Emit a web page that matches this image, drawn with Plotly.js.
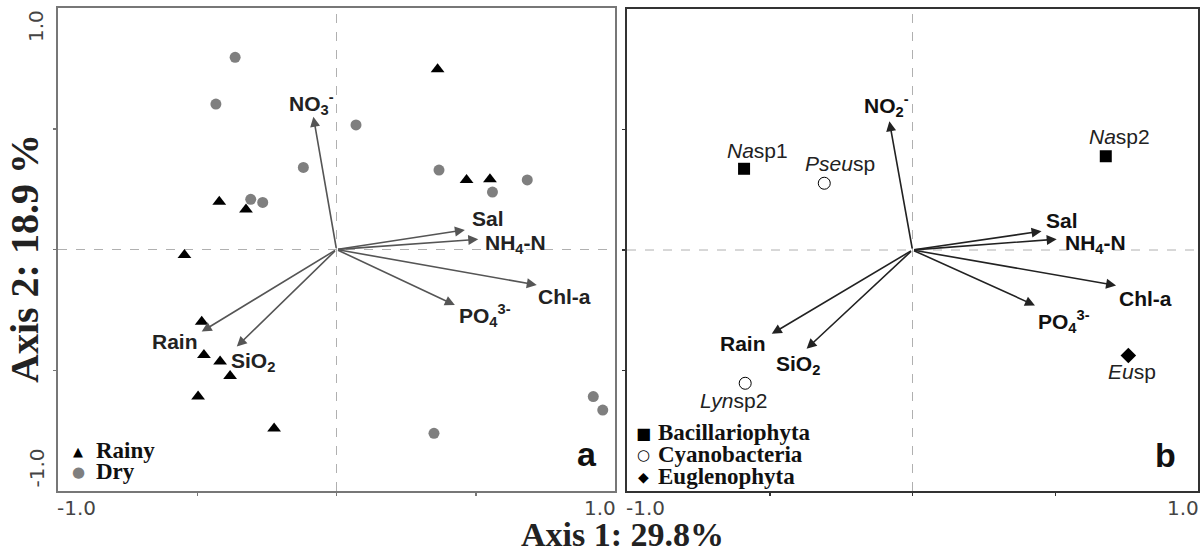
<!DOCTYPE html>
<html><head><meta charset="utf-8">
<script src="https://cdn.plot.ly/plotly-3.0.1.min.js"></script>
<style>html,body{margin:0;padding:0;background:#fff}</style>
</head><body><div id="chart" style="width:1201px;height:552px"></div>
<script>
// ---------- Panel a: sample scores ----------
const rainyX = [-0.421,-0.325,-0.546,0.363,0.467,0.551,-0.484,-0.476,-0.418,-0.382,-0.497,-0.224];
const rainyY = [0.198,0.166,-0.023,0.746,0.288,0.291,-0.299,-0.437,-0.464,-0.524,-0.609,-0.741];
const dryX = [-0.364,-0.433,0.070,-0.119,-0.308,-0.265,0.368,0.560,0.685,0.922,0.956,0.350];
const dryY = [0.796,0.602,0.516,0.340,0.208,0.195,0.329,0.238,0.288,-0.609,-0.665,-0.761];

// ---------- Environmental vectors ----------
const envLabelsA = ['NO<sub>3</sub><sup>-</sup>','Sal','NH<sub>4</sub>-N','Chl-a','PO<sub>4</sub><sup>3-</sup>','Rain','SiO<sub>2</sub>'];
const envLabelsB = ['NO<sub>2</sub><sup>-</sup>','Sal','NH<sub>4</sub>-N','Chl-a','PO<sub>4</sub><sup>3-</sup>','Rain','SiO<sub>2</sub>'];
const envAX = [-0.083,0.461,0.509,0.719,0.425,-0.484,-0.358];
const envAY = [0.550,0.081,0.042,-0.147,-0.230,-0.340,-0.402];
const envBX = [-0.081,0.452,0.505,0.713,0.429,-0.493,-0.371];
const envBY = [0.534,0.078,0.045,-0.147,-0.230,-0.348,-0.410];

// ---------- Panel b: species scores ----------
const speciesNames = ['<i>Na</i>sp1','<i>Na</i>sp2','<i>Pseu</i>sp','<i>Lyn</i>sp2','<i>Eu</i>sp'];
const speciesGroup = ['Bacillariophyta','Bacillariophyta','Cyanobacteria','Cyanobacteria','Euglenophyta'];
const speciesX = [-0.590,0.677,-0.309,-0.586,0.756];
const speciesY = [0.337,0.389,0.277,-0.553,-0.438];

// ---------- Legends, ticks, titles ----------
const seasonNames = ['Rainy','Dry'];
const groupNames = ['Bacillariophyta','Cyanobacteria','Euglenophyta'];
const tickValues = [-1, 1];
const tickLabels = ['-1.0','1.0'];
const xTitle = 'Axis 1: 29.8%';
const yTitle = 'Axis 2: 18.9 %';
const panelLetters = ['a','b'];

// ---------- styling (pixel offsets of labels) ----------
const envShiftA = [
  {xa:'center',ya:'bottom',dx:-2,dy:-3},
  {xa:'left',ya:'middle',dx:5,dy:11},
  {xa:'left',ya:'middle',dx:5,dy:-5},
  {xa:'left',ya:'middle',dx:-1,dy:-11},
  {xa:'left',ya:'middle',dx:2,dy:-10},
  {xa:'right',ya:'middle',dx:-2,dy:-10},
  {xa:'left',ya:'middle',dx:-8,dy:-15}
];
const envShiftB = [
  {xa:'center',ya:'bottom',dx:-3,dy:-1},
  {xa:'left',ya:'middle',dx:2,dy:11},
  {xa:'left',ya:'middle',dx:6,dy:-5},
  {xa:'left',ya:'middle',dx:1,dy:-13},
  {xa:'left',ya:'middle',dx:1,dy:-16},
  {xa:'right',ya:'middle',dx:-4,dy:-10},
  {xa:'left',ya:'middle',dx:-33,dy:-16}
];
const specShift = [{dx:13,dy:18},{dx:14,dy:20},{dx:16,dy:20},{dx:-12,dy:-17},{dx:4,dy:-16}];

const W = 1201, H = 552;
const px = v => v / W, py = v => 1 - v / H;
const SANS = 'Liberation Sans, Arial, sans-serif';
const SERIF = 'Liberation Serif, Times New Roman, serif';

const traces = [
  {x: rainyX, y: rainyY, xaxis:'x', yaxis:'y', mode:'markers', name: seasonNames[0],
   marker:{symbol:'triangle-up', size:12, color:'#000'}, cliponaxis:false, hoverinfo:'x+y'},
  {x: dryX, y: dryY, xaxis:'x', yaxis:'y', mode:'markers', name: seasonNames[1],
   marker:{symbol:'circle', size:11, color:'#7f7f7f'}, cliponaxis:false, hoverinfo:'x+y'}
];
const groupStyle = {
  'Bacillariophyta': {symbol:'square', size:12, color:'#000'},
  'Cyanobacteria': {symbol:'circle-open', size:12, color:'#000', line:{width:1, color:'#000'}},
  'Euglenophyta': {symbol:'diamond', size:12, color:'#000'}
};
groupNames.forEach(g => {
  const idx = speciesGroup.map((s,i)=>s===g?i:-1).filter(i=>i>=0);
  traces.push({x: idx.map(i=>speciesX[i]), y: idx.map(i=>speciesY[i]), xaxis:'x2', yaxis:'y2',
    mode:'markers', name:g, marker: groupStyle[g], cliponaxis:false, hoverinfo:'x+y'});
});

const baseAxis = {range:[-1,1], showgrid:false, zeroline:false, showline:true, mirror:true,
  linewidth:2, ticks:'outside', ticklen:3, tickwidth:1.5, tickvals:[-0.5,0,0.5],
  showticklabels:false, fixedrange:true};

const annotations = [];
const shapes = [];

function panel(xr, yr, ex, ey, labels, shifts, color, tipColor) {
  shapes.push({type:'line', xref:xr, yref:yr, x0:0, x1:0, y0:-1, y1:1, layer:'below',
    line:{color:'#b0b0b0', width:1, dash:'dash'}});
  shapes.push({type:'line', xref:xr, yref:yr, x0:-1, x1:1, y0:0, y1:0, layer:'below',
    line:{color:'#b0b0b0', width:1, dash:'dash'}});
  ex.forEach((vx,i) => {
    annotations.push({xref:xr, yref:yr, x:vx, y:ey[i], ax:0, ay:0, axref:xr, ayref:yr,
      text:'', showarrow:true, arrowhead:2, arrowsize:1.25, arrowwidth:1.6, arrowcolor:color, standoff:0});
    const s = shifts[i];
    annotations.push({xref:xr, yref:yr, x:vx, y:ey[i], text:labels[i], showarrow:false,
      xanchor:s.xa, yanchor:s.ya, xshift:s.dx, yshift:s.dy,
      font:{family:SANS, size:21, color:tipColor, weight:'bold'}});
  });
}
panel('x','y', envAX, envAY, envLabelsA, envShiftA, '#555', '#222');
panel('x2','y2', envBX, envBY, envLabelsB, envShiftB, '#222', '#111');

speciesNames.forEach((n,i) => {
  annotations.push({xref:'x2', yref:'y2', x:speciesX[i], y:speciesY[i], text:n, showarrow:false,
    xanchor:'center', yanchor:'middle', xshift:specShift[i].dx, yshift:specShift[i].dy,
    font:{family:SANS, size:21, color:'#222'}});
});

// tick labels
const TICKFAM = 'DejaVu Sans, sans-serif';
['x','x2'].forEach(xr => {
  tickValues.forEach((v,i) => {
    annotations.push({xref:xr, yref:'paper', x:v, y:py(508), text:tickLabels[i], showarrow:false,
      xanchor: v<0?'left':'right', yanchor:'middle', xshift: v<0?-2:2, borderpad:0,
      font:{family:TICKFAM, size:20, color:'#444'}});
  });
});
tickValues.forEach((v,i) => {
  annotations.push({xref:'paper', yref:'y', x:px(36), y:v, text:tickLabels[i], showarrow:false,
    textangle:-90, xanchor:'center', yanchor: v<0?'bottom':'top', yshift: v<0?2:-1, borderpad:0,
    font:{family:TICKFAM, size:20, color:'#444'}});
});

// axis titles
annotations.push({xref:'paper', yref:'paper', x:px(622), y:py(534), text:'<b>'+xTitle+'</b>', showarrow:false,
  xanchor:'center', yanchor:'middle', borderpad:0, font:{family:SERIF, size:34, color:'#222'}});
annotations.push({xref:'paper', yref:'paper', x:px(24), y:py(259), text:'<b>'+yTitle+'</b>', showarrow:false,
  textangle:-90, xanchor:'center', yanchor:'middle', font:{family:SERIF, size:40, color:'#222'}});

// panel letters
annotations.push({xref:'x', yref:'y', x:1, y:-1, text:'<b>'+panelLetters[0]+'</b>', showarrow:false,
  xanchor:'right', yanchor:'bottom', xshift:-16, yshift:16, font:{family:SANS, size:34, color:'#111'}});
annotations.push({xref:'x2', yref:'y2', x:1, y:-1, text:'<b>'+panelLetters[1]+'</b>', showarrow:false,
  xanchor:'right', yanchor:'bottom', xshift:-20, yshift:15, font:{family:SANS, size:34, color:'#111'}});

// legends (symbols + serif text)
const legA = [{sym:'\u25B2', col:'#000', size:13, y:451}, {sym:'\u25CF', col:'#7f7f7f', size:15, y:472}];
seasonNames.forEach((n,i) => {
  annotations.push({xref:'paper', yref:'paper', x:px(78), y:py(legA[i].y), text:legA[i].sym, showarrow:false,
    xanchor:'center', yanchor:'middle', font:{family:'DejaVu Sans, sans-serif', size:legA[i].size, color:legA[i].col}});
  annotations.push({xref:'paper', yref:'paper', x:px(95), y:py(legA[i].y-1), text:'<b>'+n+'</b>', showarrow:false,
    xanchor:'left', yanchor:'middle', borderpad:0, font:{family:SERIF, size:23, color:'#111'}});
});
const legB = [{sym:'\u25A0', size:16, y:433}, {sym:'\u25CB', size:15, y:455}, {sym:'\u25C6', size:14, y:477}];
groupNames.forEach((n,i) => {
  annotations.push({xref:'paper', yref:'paper', x:px(643), y:py(legB[i].y), text:legB[i].sym, showarrow:false,
    xanchor:'center', yanchor:'middle', font:{family:'DejaVu Sans, sans-serif', size:legB[i].size, color:'#000'}});
  annotations.push({xref:'paper', yref:'paper', x:px(657), y:py(legB[i].y-1), text:n, showarrow:false,
    xanchor:'left', yanchor:'middle', borderpad:0, font:{family:SERIF, size:23, color:'#111', weight:'bold'}});
});

const layout = {
  width:W, height:H, margin:{l:0,r:0,t:0,b:0}, paper_bgcolor:'#fff', plot_bgcolor:'#fff',
  showlegend:false, hovermode:'closest',
  xaxis: Object.assign({}, baseAxis, {domain:[px(58), px(615)], anchor:'y', linecolor:'#777', tickcolor:'#777'}),
  yaxis: Object.assign({}, baseAxis, {domain:[py(491), py(8)], anchor:'x', linecolor:'#777', tickcolor:'#777'}),
  xaxis2: Object.assign({}, baseAxis, {domain:[px(627), px(1198)], anchor:'y2', linecolor:'#333', tickcolor:'#333'}),
  yaxis2: Object.assign({}, baseAxis, {domain:[py(491), py(9)], anchor:'x2', linecolor:'#333', tickcolor:'#333'}),
  shapes: shapes, annotations: annotations
};
Plotly.newPlot('chart', traces, layout, {displayModeBar:false, staticPlot:true});
</script></body></html>
